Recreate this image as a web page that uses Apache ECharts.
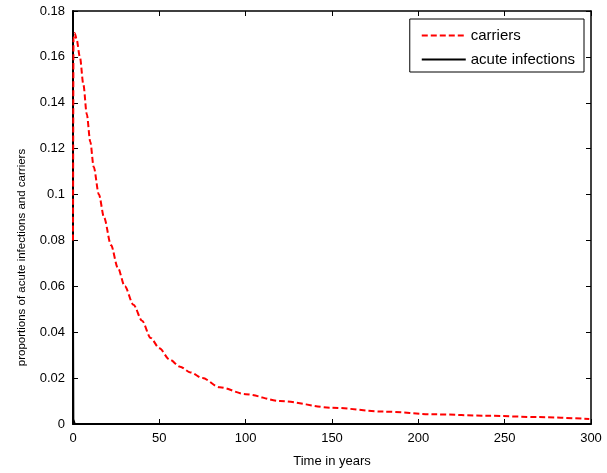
<!DOCTYPE html>
<html>
<head>
<meta charset="utf-8">
<script src="https://cdn.jsdelivr.net/npm/echarts@6/dist/echarts.min.js"></script>
<style>
  html, body { margin: 0; padding: 0; background: #fff; }
  #main { width: 607px; height: 473px; }
</style>
</head>
<body>
<div id="main"></div>
<script>
// carriers (red dashed)
var carrierTime = [0, 0.3, 1, 2, 4, 6, 8, 10, 12, 15, 18, 22, 26, 30, 35, 40, 45, 50, 56, 62, 68, 75, 85, 100, 120, 150, 180, 210, 240, 270, 299];
var carrierVal  = [0.08, 0.168, 0.1704, 0.168, 0.160, 0.148, 0.135, 0.123, 0.112, 0.100, 0.090, 0.078, 0.068, 0.060, 0.052, 0.045, 0.0375, 0.033, 0.028, 0.025, 0.0225, 0.020, 0.016, 0.013, 0.010, 0.0071, 0.0054, 0.0042, 0.0036, 0.003, 0.0022];
// acute infections (black solid), hugging the axes
var acuteTime = [0, 0.2, 1, 300];
var acuteVal  = [0.05, 0.002, 0, 0];

var xTicks = [0, 50, 100, 150, 200, 250, 300];
var yMax = 0.18, yStep = 0.02;

function pairs(xs, ys) {
  return xs.map(function (x, i) { return [x, ys[i]]; });
}

var font = 'Liberation Sans, Arial, sans-serif';
var tick = { inside: true, length: 5, lineStyle: { color: '#000' } };

var chart = echarts.init(document.getElementById('main'));
var opt = {
  animation: false,
  textStyle: { fontFamily: font },
  grid: { left: 73, right: 16, top: 11, bottom: 49 },
  legend: {
    orient: 'vertical',
    right: 23,
    top: 19,
    padding: [9, 9, 5, 11],
    itemGap: 9,
    itemWidth: 44,
    itemHeight: 14,
    borderColor: '#000',
    borderWidth: 1,
    backgroundColor: '#fff',
    itemStyle: { opacity: 0 },
    textStyle: { color: '#000', fontSize: 15, fontFamily: font },
    data: ['carriers', 'acute infections']
  },
  xAxis: [{
    type: 'value',
    min: xTicks[0], max: xTicks[xTicks.length - 1], interval: 50,
    name: 'Time in years',
    nameLocation: 'middle',
    nameGap: 31,
    nameTextStyle: { color: '#000', fontSize: 13 },
    axisLine: { onZero: false, lineStyle: { color: '#000', width: 2 } },
    axisTick: tick,
    axisLabel: { color: '#000', fontSize: 13, margin: 8 },
    splitLine: { show: false }
  }, {
    type: 'value', position: 'top',
    min: 0, max: 300, interval: 50,
    axisLine: { show: true, onZero: false, lineStyle: { color: '#000', width: 1.5 } },
    axisTick: tick,
    axisLabel: { show: false },
    splitLine: { show: false }
  }],
  yAxis: [{
    type: 'value',
    min: 0, max: yMax, interval: yStep,
    name: 'proportions of acute infections and carriers',
    nameLocation: 'middle',
    nameGap: 45,
    nameTextStyle: { color: '#000', fontSize: 11.5, padding: [0, 80, 0, 0] },
    axisLine: { show: true, onZero: false, lineStyle: { color: '#000', width: 2 } },
    axisTick: tick,
    axisLabel: {
      color: '#000', fontSize: 13, margin: 8,
      formatter: function (v) { return String(+v.toFixed(2)); }
    },
    splitLine: { show: false }
  }, {
    type: 'value', position: 'right',
    min: 0, max: yMax, interval: yStep,
    axisLine: { show: true, onZero: false, lineStyle: { color: '#000', width: 1.5 } },
    axisTick: tick,
    axisLabel: { show: false },
    splitLine: { show: false }
  }],
  series: [{
    name: 'carriers',
    type: 'line',
    data: pairs(carrierTime, carrierVal),
    symbol: 'none',
    smooth: 0.3,
    smoothMonotone: 'x',
    z: 3,
    itemStyle: { color: '#ff0000' },
    lineStyle: { color: '#ff0000', width: 2, type: [6, 3] }
  }, {
    name: 'acute infections',
    type: 'line',
    data: pairs(acuteTime, acuteVal),
    symbol: 'none',
    z: 2,
    itemStyle: { color: '#000' },
    lineStyle: { color: '#000', width: 2 }
  }]
};
chart.setOption(opt);
</script>
</body>
</html>
